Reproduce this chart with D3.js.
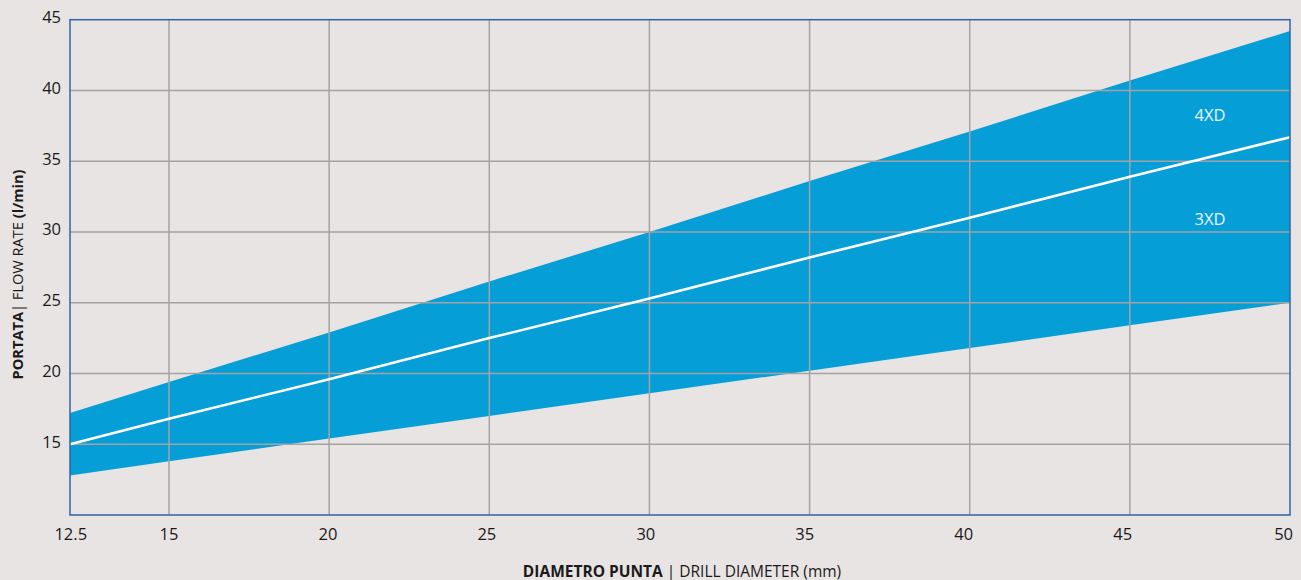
<!DOCTYPE html>
<html>
<head>
<meta charset="utf-8">
<script src="https://cdn.jsdelivr.net/npm/d3@7"></script>
<style>
  html, body { margin: 0; padding: 0; background: #e8e4e3; }
  svg { display: block; font-family: "Open Sans", Roboto, sans-serif; }
</style>
</head>
<body>
<svg id="chart" width="1301" height="580"></svg>
<script>
// Data
const diameters = [12.5, 15, 20, 25, 30, 35, 40, 45, 50];
const upper4XD  = [17.2, 19.4, 22.9, 26.5, 30.0, 33.6, 37.1, 40.7, 44.2];
const line3XD   = [15.0, 16.8, 19.6, 22.5, 25.3, 28.2, 31.0, 33.9, 36.7];
const lowerBand = [12.8, 13.8, 15.4, 17.0, 18.6, 20.2, 21.8, 23.4, 25.0];
const xTicks = [12.5, 15, 20, 25, 30, 35, 40, 45, 50];
const yTicks = [15, 20, 25, 30, 35, 40, 45];
const bandLabels = [{text: "4XD", x: 47.5, y: 38.3}, {text: "3XD", x: 47.5, y: 30.95}];

const svg = d3.select("#chart");
const pLeft = 70, pRight = 1290, pTop = 19.7, pBottom = 515;

const x = d3.scaleLinear().domain([12.5, 15, 50]).range([pLeft, 169, pRight]);
const y = d3.scaleLinear().domain([10, 45]).range([pBottom, pTop]);

const rows = diameters.map((d, i) => ({d, up: upper4XD[i], mid: line3XD[i], lo: lowerBand[i]}));

// band
svg.append("path")
  .datum(rows)
  .attr("fill", "#069ed7")
  .attr("d", d3.area().x(r => x(r.d)).y0(r => y(r.lo)).y1(r => y(r.up)));

// grid
const grid = svg.append("g").attr("stroke", "#a3a3a3").attr("stroke-width", 1.5);
grid.selectAll("line.v").data(xTicks.filter(t => t !== 12.5 && t !== 50)).join("line")
  .attr("x1", d => x(d)).attr("x2", d => x(d)).attr("y1", pTop).attr("y2", pBottom);
grid.selectAll("line.h").data(yTicks.filter(t => t !== 45)).join("line")
  .attr("y1", d => y(d)).attr("y2", d => y(d)).attr("x1", pLeft).attr("x2", pRight);

// middle line
svg.append("path")
  .datum(rows)
  .attr("fill", "none")
  .attr("stroke", "#ffffff")
  .attr("stroke-width", 2.6)
  .attr("d", d3.line().x(r => x(r.d)).y(r => y(r.mid)));

// frame
svg.append("rect")
  .attr("x", pLeft).attr("y", pTop).attr("width", pRight - pLeft).attr("height", pBottom - pTop)
  .attr("fill", "none").attr("stroke", "#2f64a6").attr("stroke-width", 1.5);

// x tick labels
svg.append("g").selectAll("text").data(xTicks).join("text")
  .attr("x", d => d === 50 ? x(d) + 3 : x(d) - (x(d) - 169) * 0.0075)
  .attr("y", 540)
  .attr("text-anchor", d => d === 50 ? "end" : "middle")
  .attr("font-size", 16.5)
  .attr("fill", "#1a1a1a")
  .text(d => d);

// y tick labels
svg.append("g").selectAll("text").data(yTicks).join("text")
  .attr("x", 61)
  .attr("y", d => y(d) + 3.5)
  .attr("text-anchor", "end")
  .attr("font-size", 16.5)
  .attr("fill", "#1a1a1a")
  .text(d => d);

// band labels
svg.append("g").selectAll("text").data(bandLabels).join("text")
  .attr("x", d => x(d.x)).attr("y", d => y(d.y))
  .attr("text-anchor", "middle")
  .attr("dominant-baseline", "central")
  .attr("font-size", 16.5)
  .attr("fill", "#e6f4fb")
  .text(d => d.text);

// x axis title
const xt = svg.append("text")
  .attr("x", 682).attr("y", 576.5)
  .attr("text-anchor", "middle")
  .attr("font-size", 15.5)
  .attr("fill", "#1a1a1a");
xt.append("tspan").attr("font-weight", "bold").text("DIAMETRO PUNTA");
xt.append("tspan").text(" | DRILL DIAMETER (mm)");

// y axis title
const yt = svg.append("text")
  .attr("transform", "translate(22.5,274.5) rotate(-90)")
  .attr("text-anchor", "middle")
  .attr("font-size", 14.6)
  .attr("fill", "#1a1a1a");
yt.append("tspan").attr("font-weight", "bold").text("PORTATA");
yt.append("tspan").text("| FLOW RATE ");
yt.append("tspan").attr("font-weight", "bold").text("(l/min)");
</script>
</body>
</html>
